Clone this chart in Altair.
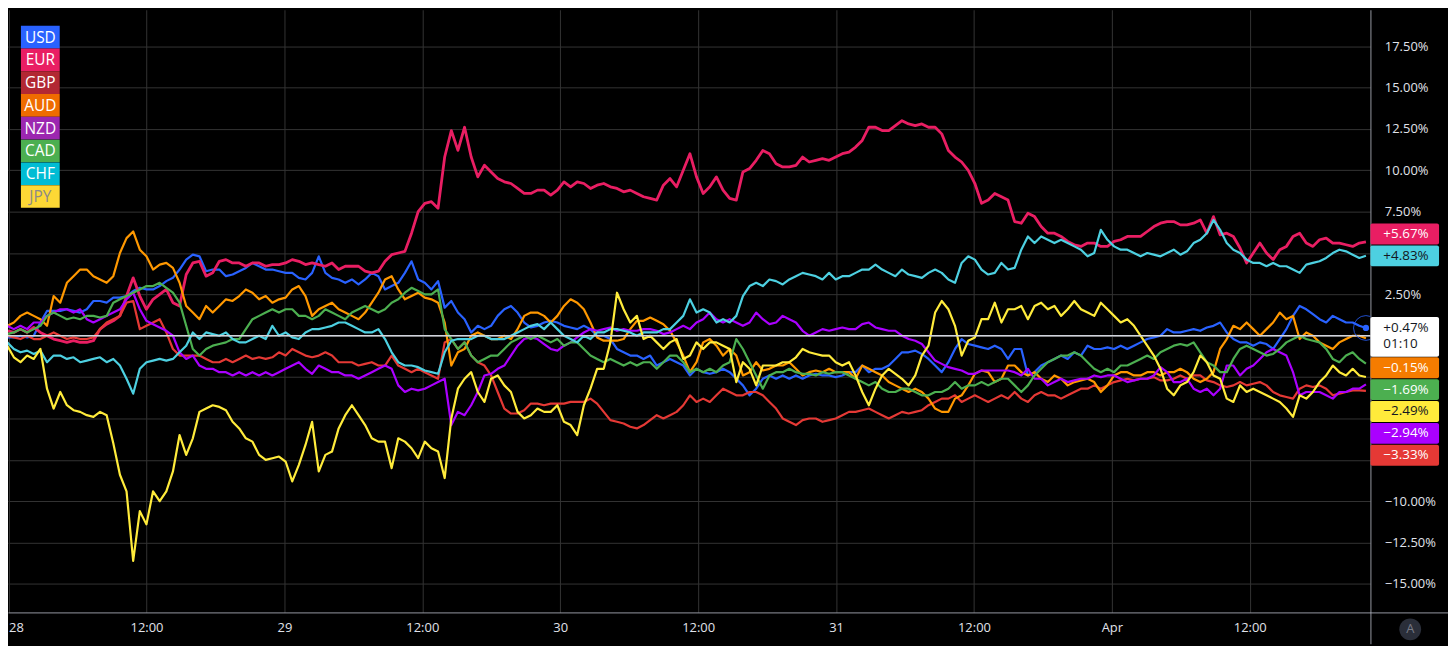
import altair as alt
import pandas as pd

# ---------------- data ----------------
# time grid: hours after "28 00:00", one reading every ~35 minutes
HOURS = [round(-0.692 + 0.5767 * k, 3) for k in range(207)]
CURRENCIES = ["USD", "EUR", "GBP", "AUD", "NZD", "CAD", "CHF", "JPY"]

USD = [-0.2, -0.1, -0.1, 0.0, -0.1, 0.0, 0.8, 1.5, 1.5, 1.5, 1.6, 1.5, 1.4, 1.6, 2.1, 2.1, 2.0, 2.3, 2.3, 2.4,
       2.7, 2.9, 2.8, 2.8, 3.0, 3.3, 3.5, 4.0, 4.6, 4.9, 4.8, 3.9, 4.0, 4.0, 3.6, 3.7, 3.9, 4.1, 4.4, 4.2,
       4.0, 4.0, 3.9, 3.8, 3.8, 3.5, 3.4, 3.8, 4.8, 3.8, 3.5,
       3.4, 3.2, 3.4, 3.1, 3.4, 3.8, 3.6, 2.8, 3.0, 3.2, 3.8, 4.5, 3.4, 3.2, 2.8, 3.3, 1.7, 2.1, 1.4, 1.0,
       0.2, 0.6, 0.4, 0.6, 1.2, 1.6, 1.8, 1.4, 0.8, 0.5, 0.6, 0.8, 0.9, 0.8, 0.6, 0.5, 0.4, 0.6, 0.4, 0.0,
       0.0, -0.2, -0.8, -1.0, -1.2, -1.2, -1.4, -1.2, -1.8, -1.6, -1.4,
       -1.6, -1.8, -2.4, -2.0, -2.2, -2.3, -2.2, -2.0, -2.2, -2.6, -3.0, -3.6, -3.2, -2.6, -2.4, -2.6, -2.4, -2.6, -2.4, -2.6,
       -2.4, -2.3, -2.4, -2.4, -2.5, -2.4, -2.2, -2.2, -1.8, -2.2, -2.0, -2.0, -1.8, -1.4, -1.0, -1.0, -0.9, -1.1, -1.4, -1.8,
       -2.2, -1.6, -0.8, -0.2, -0.5, -0.6, -0.7, -0.8, -0.6, -0.8, -1.4,
       -0.8, -0.8, -2.4, -2.2, -1.8, -1.6, -1.4, -1.2, -1.4, -1.0, -1.2, -0.6, -0.8, -0.8, -0.7, -0.8, -0.6, -0.8, -0.6, -0.4,
       -0.2, -0.1, 0.0, 0.4, 0.2, 0.2, 0.3, 0.4, 0.3, 0.5, 0.6, 0.8, 0.2, -0.2, -0.4, -0.4, -0.6, -0.4, -0.5, -0.8,
       -0.2, 0.4, 1.2, 1.8, 1.6, 1.3, 1.0, 0.8, 1.2, 1.0, 0.8, 0.8, 0.6, 0.47]
EUR = [0.1, 0.3, 0.2, 0.4, 0.2, 0.5, 0.2, 0.0, -0.2, -0.3, -0.4, -0.3, -0.4, -0.4, -0.3, 0.4, 0.7, 0.9, 1.2, 2.4,
       3.5, 2.4, 1.6, 2.2, 2.5, 2.8, 2.0, 1.8, 3.7, 4.4, 4.5, 3.6, 3.8, 4.5, 4.6, 4.4, 4.4, 4.2, 4.4, 4.4,
       4.2, 4.3, 4.3, 4.4, 4.6, 4.5, 4.3, 4.4, 4.3, 4.2, 4.4,
       4.0, 4.2, 4.2, 4.2, 3.9, 3.8, 3.9, 4.5, 4.9, 5.0, 5.1, 6.2, 7.5, 8.0, 8.1, 7.7, 10.8, 12.4, 11.2, 12.6,
       10.8, 9.6, 10.3, 9.9, 9.5, 9.3, 9.2, 8.9, 8.6, 8.6, 8.8, 8.8, 8.5, 8.8, 9.3, 9.0, 9.3, 9.2, 8.9, 9.1,
       9.2, 9.0, 8.9, 8.7, 8.8, 8.6, 8.4, 8.3, 8.2, 9.1, 9.5,
       9.0, 10.0, 11.0, 9.6, 8.6, 9.0, 9.6, 8.8, 8.3, 8.2, 9.9, 10.1, 10.6, 11.2, 11.0, 10.4, 10.2, 10.2, 10.3, 10.8,
       10.5, 10.6, 10.7, 10.6, 10.8, 11.0, 11.1, 11.4, 11.8, 12.6, 12.6, 12.4, 12.4, 12.7, 13.0, 12.8, 12.7, 12.8, 12.6, 12.6,
       12.2, 11.2, 10.8, 10.5, 10.0, 9.2, 8.0, 8.2, 8.6, 8.4, 8.2,
       6.9, 6.8, 7.4, 7.2, 6.6, 6.2, 6.2, 6.0, 5.7, 5.5, 5.4, 5.6, 5.6, 5.4, 5.4, 5.7, 5.8, 6.0, 6.0, 6.0,
       6.3, 6.6, 6.8, 6.9, 6.9, 6.7, 6.7, 6.8, 7.0, 6.2, 7.2, 6.1, 6.2, 6.0, 5.3, 4.4, 5.0, 5.6, 5.0, 4.6,
       5.2, 5.4, 6.0, 6.2, 5.6, 5.4, 5.8, 5.9, 5.6, 5.6, 5.5, 5.4, 5.6, 5.67]
GBP = [0.0, 0.0, -0.1, -0.2, 0.0, -0.2, -0.2, 0.0, 0.2, 0.0, -0.2, -0.1, -0.2, -0.2, -0.1, 0.4, 0.8, 1.0, 1.2, 2.0,
       2.1, 0.4, 0.6, 0.8, 1.0, 0.2, -0.8, -1.2, -1.2, -1.2, -1.2, -1.4, -1.6, -1.6, -1.4, -1.6, -1.4, -1.2, -1.4, -1.3,
       -1.4, -1.3, -1.0, -1.2, -0.8, -1.0, -1.2, -1.3, -1.2, -1.0, -1.2,
       -1.6, -1.6, -1.6, -1.8, -1.7, -1.6, -1.8, -1.8, -1.2, -1.8, -2.0, -2.2, -2.0, -2.2, -2.4, -2.6, -0.4, -0.2, -0.8, -0.4,
       -1.2, -1.6, -1.8, -2.4, -3.4, -4.4, -4.7, -4.7, -4.5, -4.1, -4.1, -4.2, -4.1, -4.1, -4.1, -4.0, -4.0, -4.0, -3.8, -4.1,
       -4.6, -5.1, -5.2, -5.3, -5.5, -5.6, -5.4, -5.1, -4.8, -5.0, -4.8,
       -4.6, -4.2, -3.6, -4.0, -3.8, -4.0, -3.6, -3.2, -3.4, -3.6, -3.6, -3.4, -3.4, -3.6, -4.0, -4.4, -5.0, -5.2, -5.4, -5.1,
       -5.0, -5.0, -5.2, -5.1, -5.0, -4.8, -4.6, -4.6, -4.5, -4.4, -4.6, -4.8, -5.0, -4.8, -4.6, -4.7, -4.6, -4.5, -4.2, -4.0,
       -3.8, -3.8, -3.6, -4.0, -3.8, -3.6, -3.8, -4.0, -3.8, -3.6, -3.8,
       -3.4, -3.8, -4.0, -3.6, -3.4, -3.6, -3.6, -3.8, -3.6, -3.4, -3.2, -3.2, -3.0, -3.2, -3.0, -2.8, -2.7, -2.6, -2.7, -2.6,
       -2.6, -2.5, -2.7, -2.7, -2.6, -2.4, -2.6, -2.4, -2.4, -2.7, -2.8, -3.0, -3.1, -3.0, -2.8, -3.0, -2.9, -2.8, -3.0, -3.4,
       -3.6, -3.7, -3.8, -3.2, -3.0, -3.1, -3.0, -3.2, -3.6, -3.5, -3.4, -3.3, -3.3, -3.33]
AUD = [0.2, 0.6, 0.8, 1.2, 1.4, 1.2, 1.0, 0.6, 2.4, 2.0, 3.2, 3.6, 4.0, 4.0, 3.6, 3.4, 3.2, 3.6, 5.0, 5.9,
       6.3, 5.2, 4.8, 4.0, 4.3, 4.4, 4.1, 3.2, 1.8, 1.4, 1.0, 1.8, 1.4, 1.8, 2.2, 2.1, 2.4, 2.8, 2.6, 2.2,
       2.4, 2.0, 2.2, 2.3, 2.8, 3.0, 2.4, 1.2, 1.6, 1.8, 2.0,
       1.6, 1.4, 1.2, 1.0, 1.4, 2.0, 2.6, 3.4, 3.6, 2.8, 2.2, 2.4, 2.6, 2.3, 2.2, 2.0, 0.8, -1.8, -1.0, -0.8,
       0.0, 0.2, 0.0, -0.2, -0.2, 0.0, -0.2, 0.4, 1.2, 1.4, 1.4, 1.2, 0.8, 1.2, 1.8, 2.2, 2.0, 1.6, 0.8, -0.1,
       -0.3, -0.3, -0.3, -0.2, 0.4, 0.9, 0.9, 1.1, 0.9, 0.7, 0.3,
       -0.4, -1.2, -2.2, -1.6, -0.4, -0.2, -0.6, -1.2, -0.8, -1.2, -2.4, -2.2, -1.6, -2.1, -2.0, -1.8, -1.8, -1.6, -2.0, -2.4,
       -2.2, -2.1, -2.2, -2.0, -2.2, -2.2, -2.2, -2.6, -1.8, -2.0, -2.2, -2.4, -2.8, -3.0, -3.2, -3.4, -3.2, -3.4, -3.8, -4.4,
       -4.6, -4.6, -3.8, -3.6, -3.0, -2.3, -2.1, -2.2, -2.8, -2.6, -1.8,
       -1.8, -2.2, -2.4, -2.2, -2.6, -2.8, -2.4, -2.6, -3.0, -2.8, -2.7, -2.6, -2.8, -3.4, -3.0, -2.4, -2.2, -2.2, -2.4, -2.4,
       -2.2, -2.2, -2.4, -2.2, -2.2, -2.0, -2.2, -2.6, -2.8, -2.6, -2.2, -0.8, -0.2, 0.6, 0.4, 0.8, 0.4, 0.0, 0.4, 0.8,
       1.4, 1.0, 1.2, -0.2, 0.2, 0.0, -0.4, -0.6, -0.8, -0.4, -0.2, 0.0, 0.0, -0.15]
NZD = [0.4, 0.6, 0.4, 0.6, 0.4, 0.8, 0.8, 1.2, 1.4, 1.6, 1.6, 1.4, 1.6, 1.0, 0.8, 1.0, 1.2, 1.4, 1.6, 2.2,
       2.6, 1.6, 0.9, 0.7, 0.5, 0.3, 0.0, -1.0, -1.4, -1.2, -1.8, -2.0, -2.0, -2.2, -2.2, -2.4, -2.2, -2.4, -2.2, -2.4,
       -2.2, -2.4, -2.2, -2.0, -1.8, -1.6, -2.0, -2.3, -1.8, -2.0, -2.2,
       -2.2, -2.4, -2.4, -2.6, -2.4, -2.2, -2.0, -1.8, -2.0, -3.0, -3.4, -3.2, -3.3, -3.2, -3.0, -2.8, -2.6, -5.4, -4.6, -4.8,
       -4.2, -3.4, -2.4, -2.3, -2.0, -1.8, -1.2, -0.6, -0.2, -0.1, -0.2, -0.5, -0.8, -0.9, -0.6, -0.4, -0.1, 0.2, 0.4, 0.3,
       0.4, 0.5, 0.3, 0.4, 0.3, 0.3, 0.4, 0.4, 0.3, 0.1, 0.2,
       0.4, 0.6, 0.4, 0.8, 1.0, 1.4, 1.0, 0.8, 1.0, 0.8, 0.6, 0.8, 1.4, 1.0, 0.7, 0.8, 1.2, 1.0, 0.8, 0.3,
       0.0, 0.2, 0.4, 0.3, 0.4, 0.5, 0.4, 0.4, 0.7, 0.8, 0.5, 0.4, 0.3, 0.3, 0.0, -0.2, -0.3, -0.5, -1.0, -1.5,
       -1.7, -1.9, -2.0, -2.1, -2.3, -2.3, -2.1, -2.1, -2.1, -2.1, -2.1,
       -2.2, -2.4, -2.0, -2.6, -2.6, -3.0, -2.8, -2.6, -2.8, -2.7, -2.6, -2.6, -2.4, -2.5, -2.4, -2.4, -2.6, -2.8, -2.7, -2.6,
       -2.6, -2.4, -1.9, -2.2, -2.8, -2.8, -2.6, -3.2, -3.4, -3.2, -3.6, -3.2, -1.8, -1.8, -2.4, -2.0, -1.8, -1.4, -1.0, -0.8,
       -1.0, -1.2, -2.2, -3.6, -3.4, -3.4, -3.4, -3.6, -3.8, -3.4, -3.4, -3.2, -3.2, -2.94]
CAD = [0.0, 0.1, 0.2, 0.4, 0.2, 0.4, 0.6, 1.2, 1.4, 1.2, 1.0, 1.1, 1.0, 1.2, 1.2, 1.1, 1.2, 2.0, 2.2, 2.4,
       2.6, 2.8, 3.0, 3.0, 3.2, 2.9, 2.6, 2.0, 0.6, -0.8, -1.2, -0.8, -0.6, -0.5, -0.4, -0.2, -0.2, 0.4, 1.0, 1.2,
       1.4, 1.6, 1.4, 1.6, 1.6, 1.2, 1.2, 1.0, 1.2, 1.6, 1.4,
       1.2, 1.0, 1.4, 1.6, 1.8, 1.6, 1.4, 1.6, 2.0, 2.2, 2.6, 2.9, 2.7, 2.5, 2.5, 2.8, 0.4, -0.2, -0.8, -0.4,
       -1.2, -1.6, -1.4, -1.2, -1.2, -0.8, -0.4, -0.2, 0.0, -0.2, 0.0, -0.2, -0.4, -0.2, -0.6, -0.4, -0.4, -0.8, -1.2, -1.4,
       -1.6, -1.4, -1.6, -1.8, -1.6, -1.8, -1.6, -1.6, -2.0, -1.6, -1.2,
       -1.2, -1.6, -2.2, -2.0, -2.2, -2.0, -2.2, -1.8, -1.6, -0.2, -0.8, -1.6, -2.4, -3.2, -2.4, -2.2, -2.2, -2.0, -2.2, -2.3,
       -2.3, -2.4, -2.2, -2.3, -2.2, -2.2, -2.4, -2.6, -2.8, -3.0, -2.8, -3.2, -3.4, -3.4, -3.2, -3.2, -3.4, -3.6, -3.6, -3.4,
       -3.4, -3.2, -2.8, -3.2, -3.0, -3.0, -2.8, -3.0, -2.8, -2.6, -2.6,
       -3.0, -3.4, -3.0, -2.4, -2.0, -1.6, -1.4, -1.2, -1.2, -1.0, -1.2, -1.6, -2.0, -2.2, -2.0, -2.2, -1.8, -1.8, -1.6, -1.4,
       -1.2, -1.4, -1.0, -0.8, -0.6, -0.5, -0.6, -0.4, -1.0, -1.6, -1.8, -2.2, -2.2, -1.4, -0.8, -0.6, -0.8, -1.0, -1.2, -1.1,
       -0.8, -0.4, -0.2, 0.0, -0.2, -0.3, -0.4, -0.8, -1.4, -1.6, -1.2, -1.0, -1.4, -1.69]
CHF = [-0.2, -0.4, -0.8, -1.0, -0.9, -1.1, -0.9, -1.6, -1.2, -1.2, -1.4, -1.3, -1.6, -1.5, -1.4, -1.3, -1.6, -1.4, -1.8, -2.6,
       -3.5, -2.0, -1.6, -1.5, -1.4, -1.5, -1.4, -1.0, -0.6, 0.2, -0.2, 0.2, 0.1, 0.0, 0.2, -0.2, -0.4, -0.4, -0.2, 0.0,
       -0.2, 0.6, 0.0, 0.2, -0.1, -0.2, 0.2, 0.4, 0.4, 0.5, 0.6,
       0.8, 0.8, 0.6, 0.4, 0.2, 0.2, 0.4, -0.2, -1.0, -1.6, -1.8, -1.8, -1.9, -2.1, -2.2, -2.3, -1.0, -0.3, -0.2, -0.2,
       -0.2, 0.0, 0.0, -0.2, -0.2, -0.2, 0.0, 0.2, 0.4, 0.6, 0.7, 0.4, 0.8, 0.4, 0.0, -0.2, -0.4, 0.0, -0.2, 0.2,
       0.2, 0.4, 0.4, 0.3, 0.2, 0.0, 0.2, 0.2, 0.2, 0.4, 0.4,
       0.8, 1.2, 2.2, 1.4, 1.6, 1.4, 0.8, 1.0, 0.8, 1.2, 2.4, 3.0, 3.2, 3.0, 3.4, 3.3, 3.1, 3.4, 3.6, 3.8,
       3.7, 3.6, 3.4, 3.8, 3.4, 3.6, 3.6, 3.8, 4.0, 4.0, 4.3, 4.0, 3.8, 3.6, 4.0, 3.7, 3.6, 3.5, 3.8, 4.0,
       3.8, 3.4, 3.2, 4.4, 4.8, 4.6, 4.0, 3.7, 3.8, 4.4, 4.0,
       4.1, 5.2, 6.0, 5.6, 6.0, 5.8, 5.6, 5.8, 5.6, 5.4, 5.2, 4.8, 5.0, 6.4, 5.8, 5.4, 5.2, 5.2, 5.0, 4.8,
       5.0, 4.9, 4.8, 5.0, 5.2, 4.9, 5.1, 5.6, 5.8, 6.2, 7.0, 6.4, 5.6, 5.2, 5.0, 4.6, 4.4, 4.4, 4.2, 4.4,
       4.2, 4.2, 4.0, 3.8, 4.3, 4.4, 4.5, 4.7, 5.0, 5.2, 5.1, 4.9, 4.7, 4.83]
JPY = [-0.3, -0.6, -1.3, -1.6, -1.2, -1.4, -0.8, -3.2, -4.4, -3.4, -4.2, -4.5, -4.6, -4.8, -4.9, -4.6, -4.8, -6.5, -8.4, -9.4,
       -13.6, -10.6, -11.4, -9.4, -10.0, -9.4, -8.2, -6.0, -7.2, -6.2, -4.6, -4.4, -4.2, -4.3, -4.5, -5.2, -5.6, -6.2, -6.4, -7.2,
       -7.5, -7.4, -7.3, -7.6, -8.8, -7.8, -6.6, -5.2, -8.2, -7.2, -7.0,
       -5.6, -4.8, -4.2, -4.8, -5.4, -6.2, -6.4, -6.4, -8.0, -6.2, -6.4, -6.8, -7.4, -6.4, -6.8, -7.0, -8.6, -5.0, -3.2, -2.6,
       -2.2, -3.4, -4.0, -2.6, -2.4, -3.0, -3.4, -4.6, -5.0, -4.8, -4.4, -4.6, -4.6, -4.2, -5.2, -5.4, -6.0, -4.2, -3.2, -2.0,
       -2.0, -0.4, 2.6, 1.6, 0.8, 1.2, -0.2, 0.0, -0.4, -0.8, -0.4,
       -0.2, -1.4, -1.2, -0.4, -0.8, -0.4, -0.4, -0.6, -0.8, -2.8, -1.6, -2.0, -3.0, -1.8, -1.8, -1.8, -1.6, -1.6, -1.3, -0.8,
       -1.0, -1.1, -1.2, -1.2, -1.6, -1.8, -1.6, -2.4, -3.4, -4.2, -3.2, -2.4, -2.0, -2.3, -2.6, -3.0, -2.4, -1.2, -0.6, 1.4,
       2.1, 1.6, 0.6, -1.2, -0.3, -0.1, 1.0, 1.0, 2.0, 0.8, 1.6,
       1.6, 1.8, 1.0, 1.8, 2.0, 1.6, 1.8, 1.2, 1.6, 2.1, 1.6, 1.4, 1.2, 2.0, 1.6, 1.2, 0.8, 1.0, 0.6, 0.0,
       -0.6, -1.2, -2.0, -3.2, -3.6, -3.0, -2.8, -2.2, -1.2, -1.6, -2.4, -2.6, -3.8, -4.0, -3.0, -3.4, -3.2, -3.4, -3.6, -3.8,
       -4.0, -4.4, -4.9, -3.6, -3.8, -3.4, -2.8, -2.4, -1.8, -2.2, -2.4, -2.0, -2.4, -2.49]

SERIES = {"USD": USD, "EUR": EUR, "GBP": GBP, "AUD": AUD,
          "NZD": NZD, "CAD": CAD, "CHF": CHF, "JPY": JPY}
for _name, _vals in SERIES.items():
    assert len(_vals) == len(HOURS), (_name, len(_vals))

MAIN = "USD"
COUNTDOWN = "01:10"
X_TICKS = [0, 12, 24, 36, 48, 60, 72, 84, 96, 108]
Y_TICKS = [-15, -12.5, -10, -7.5, -5, -2.5, 0, 2.5, 5, 7.5, 10, 12.5, 15, 17.5]

# ---------------- styles ----------------
LINE_COLORS = {"USD": "#2962ff", "EUR": "#e91e63", "GBP": "#e53935", "AUD": "#ff9800",
               "NZD": "#aa00ff", "CAD": "#4caf50", "CHF": "#4dd0e1", "JPY": "#ffeb3b"}
LEGEND_FILL = {"USD": "#2962ff", "EUR": "#e91e63", "GBP": "#b22833", "AUD": "#ef6c00",
               "NZD": "#9c27b0", "CAD": "#4caf50", "CHF": "#00bcd4", "JPY": "#fdd835"}
LEGEND_TEXT = {c: "#ffffff" for c in CURRENCIES}
LEGEND_TEXT["JPY"] = "#8a8a8a"
BADGE_FILL = {"USD": "#ffffff", "EUR": "#e91e63", "GBP": "#e53935", "AUD": "#f57c00",
              "NZD": "#aa00ff", "CAD": "#4caf50", "CHF": "#4dd0e1", "JPY": "#ffeb3b"}
BADGE_TEXT = {"USD": "#131722", "EUR": "#ffffff", "GBP": "#ffffff", "AUD": "#ffffff",
              "NZD": "#ffffff", "CAD": "#ffffff", "CHF": "#131722", "JPY": "#131722"}

FONT = "Open Sans"
TXT = "#e0e3eb"
GRID = "#333333"
AXIS_LINE = "#9598a1"

PLOT_W, PLOT_H = 1370, 606
X_MIN, X_MAX = -0.05, 118.5
Y_MIN, Y_MAX = -16.72, 19.70
PPY = PLOT_H / (Y_MAX - Y_MIN)


def v_to_px(v):
    return (Y_MAX - v) * PPY


def px_to_v(p):
    return Y_MAX - p / PPY


def fmt(v):
    return ("+" if v >= 0 else "\u2212") + f"{abs(v):.2f}%"


# ---------------- price badges (de-overlapped) ----------------
BH = 22.0
last = {c: SERIES[c][-1] for c in CURRENCIES}
main_px = v_to_px(last[MAIN])
main_top = main_px - BH / 2
main_bot = main_top + 40
centers = {}
limit = main_top
for c in sorted([c for c in CURRENCIES if c != MAIN and last[c] > last[MAIN]], key=lambda k: last[k]):
    cp = min(v_to_px(last[c]), limit - BH / 2)
    centers[c] = cp
    limit = cp - BH / 2
limit = main_bot
for c in sorted([c for c in CURRENCIES if c != MAIN and last[c] <= last[MAIN]], key=lambda k: -last[k]):
    cp = max(v_to_px(last[c]), limit + BH / 2)
    centers[c] = cp
    limit = cp + BH / 2

spans = [(main_top, main_bot)] + [(cp - BH / 2, cp + BH / 2) for cp in centers.values()]
hidden = [t for t in Y_TICKS if any(a - 6 < v_to_px(t) < b + 6 for a, b in spans)]
hidden_js = "[" + ",".join(str(t) for t in hidden) + "]"

x_scale = alt.Scale(domain=[X_MIN, X_MAX], nice=False, zero=False)
y_scale = alt.Scale(domain=[Y_MIN, Y_MAX], nice=False, zero=False)

x_axis = alt.Axis(values=X_TICKS, title=None, grid=True, gridColor=GRID, gridWidth=1,
                  domain=True, domainColor=AXIS_LINE, domainWidth=1, ticks=False,
                  labelPadding=9, labelColor=TXT, labelFontSize=13, labelFont=FONT,
                  labelFlush=5,
                  labelExpr="datum.value % 24 == 12 ? '12:00' : (datum.value == 96 ? 'Apr' : toString(28 + datum.value / 24))")
y_axis = alt.Axis(values=Y_TICKS, orient="right", title=None, grid=True, gridColor=GRID,
                  gridWidth=1, domain=True, domainColor=AXIS_LINE, domainWidth=1, ticks=False,
                  labelPadding=14, labelColor=TXT, labelFontSize=13, labelFont=FONT,
                  labelAlign="left", labelBaseline="middle",
                  labelExpr="indexof(" + hidden_js + ", datum.value) >= 0 ? '' : format(datum.value, '.2f') + '%'")


def X(field):
    return alt.X(field, scale=x_scale, axis=x_axis)


def Y(field):
    return alt.Y(field, scale=y_scale, axis=y_axis)


rows = []
for c in CURRENCIES:
    for h, v in zip(HOURS, SERIES[c]):
        rows.append({"cur": c, "h": h, "v": v})
df = pd.DataFrame(rows)

layers = []
for c in CURRENCIES:
    layers.append(
        alt.Chart(df[df.cur == c]).mark_line(
            color=LINE_COLORS[c], strokeWidth=2.8 if c == "EUR" else 2.2,
            strokeJoin="round", clip=True
        ).encode(x=X("h:Q"), y=Y("v:Q"))
    )

# zero line
zero = alt.Chart(pd.DataFrame({"v": [0.0]})).mark_rule(color="#d1d4dc", strokeWidth=1.5).encode(
    y=Y("v:Q"))
layers.append(zero)

# ring at the end of the main series
end_df = pd.DataFrame({"h": [HOURS[-1]], "v": [SERIES[MAIN][-1]]})
ring = alt.Chart(end_df).mark_point(shape="circle", filled=False, size=620, stroke="#2962ff",
                                     strokeWidth=1, opacity=0.8, clip=True).encode(
    x=X("h:Q"), y=Y("v:Q"))
dot = alt.Chart(end_df).mark_circle(size=40, color="#2962ff", opacity=1, clip=True).encode(
    x=X("h:Q"), y=Y("v:Q"))
layers += [ring, dot]

badge_rows = []
text_rows = []
for c, cp in centers.items():
    badge_rows.append({"top": px_to_v(cp - BH / 2 + 0.5), "bot": px_to_v(cp + BH / 2 - 0.5),
                       "fill": BADGE_FILL[c]})
    text_rows.append({"mid": px_to_v(cp), "label": fmt(last[c]), "tc": BADGE_TEXT[c]})
badge_rows.append({"top": px_to_v(main_top), "bot": px_to_v(main_bot), "fill": BADGE_FILL[MAIN]})
text_rows.append({"mid": px_to_v(main_px), "label": fmt(last[MAIN]), "tc": BADGE_TEXT[MAIN]})
text_rows.append({"mid": px_to_v(main_px + 16), "label": COUNTDOWN, "tc": BADGE_TEXT[MAIN]})

badges = alt.Chart(pd.DataFrame(badge_rows)).mark_rect(cornerRadius=2).encode(
    x=alt.value(PLOT_W), x2=alt.value(PLOT_W + 69),
    y=Y("top:Q"), y2="bot:Q",
    fill=alt.Fill("fill:N", scale=None))
badge_text = alt.Chart(pd.DataFrame(text_rows)).mark_text(
    align="left", baseline="middle", font=FONT, fontSize=13.5).encode(
    x=alt.value(PLOT_W + 13), y=Y("mid:Q"),
    text="label:N", color=alt.Color("tc:N", scale=None))
layers += [badges, badge_text]

# ---------------- legend (top-left) ----------------
leg_rows = []
for i, c in enumerate(CURRENCIES):
    cy = 27.5 + 22.9 * i
    leg_rows.append({"name": c, "top": px_to_v(cy - 11.4), "bot": px_to_v(cy + 11.4),
                     "mid": px_to_v(cy + 0.5), "fill": LEGEND_FILL[c], "tc": LEGEND_TEXT[c]})
leg_df = pd.DataFrame(leg_rows)
leg_box = alt.Chart(leg_df).mark_rect().encode(
    x=alt.value(13), x2=alt.value(52),
    y=Y("top:Q"), y2="bot:Q",
    fill=alt.Fill("fill:N", scale=None))
leg_txt = alt.Chart(leg_df).mark_text(align="center", baseline="middle", font=FONT,
                                      fontSize=15.5).encode(
    x=alt.value(32.5), y=Y("mid:Q"),
    text="name:N", color=alt.Color("tc:N", scale=None))
layers += [leg_box, leg_txt]

# price-scale separators extending into the time-axis strip
sep_df = pd.DataFrame({"k": [0]})
sep_v = alt.Chart(sep_df).mark_rule(color=AXIS_LINE, strokeWidth=1).encode(
    x=alt.value(PLOT_W + 0.5), y=alt.value(PLOT_H), y2=alt.value(PLOT_H + 32))
sep_h = alt.Chart(sep_df).mark_rule(color=AXIS_LINE, strokeWidth=1).encode(
    x=alt.value(PLOT_W), x2=alt.value(PLOT_W + 78), y=alt.value(PLOT_H + 0.5))
layers += [sep_v, sep_h]

# auto-scale button (bottom right)
btn_df = pd.DataFrame({"t": ["A"]})
btn = alt.Chart(btn_df).mark_circle(size=480, color="#2a2e39", opacity=1).encode(
    x=alt.value(PLOT_W + 40), y=alt.value(PLOT_H + 17))
btn_t = alt.Chart(btn_df).mark_text(font=FONT, fontSize=13, color="#787b86",
                                    baseline="middle").encode(
    x=alt.value(PLOT_W + 40), y=alt.value(PLOT_H + 17), text="t:N")
layers += [btn, btn_t]

chart = alt.layer(*layers).properties(
    width=PLOT_W, height=PLOT_H,
    padding={"left": 0, "top": 0, "right": 78, "bottom": 32},
    autosize=alt.AutoSizeParams(type="none"),
    background="#000000",
).configure_view(strokeWidth=0)

chart.save("out.html", embed_options={"renderer": "svg", "actions": False})
